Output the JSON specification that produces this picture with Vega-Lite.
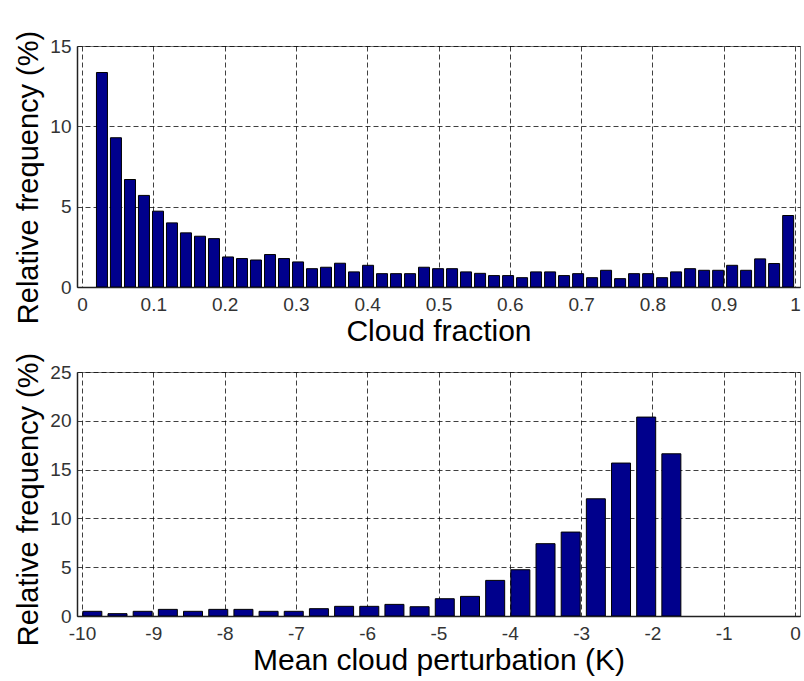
{
  "$schema": "https://vega.github.io/schema/vega-lite/v6.json",
  "background": "white",
  "padding": {"left": 14, "top": 29, "right": 2, "bottom": 0},
  "spacing": 4,
  "datasets": {
    "cf": [
      {"x": 0.0280, "f": 13.35}, {"x": 0.0476, "f": 9.29}, {"x": 0.0673, "f": 6.69}, {"x": 0.0869, "f": 5.70},
      {"x": 0.1066, "f": 4.72}, {"x": 0.1262, "f": 3.99}, {"x": 0.1458, "f": 3.37}, {"x": 0.1655, "f": 3.16},
      {"x": 0.1851, "f": 3.01}, {"x": 0.2048, "f": 1.87}, {"x": 0.2244, "f": 1.77}, {"x": 0.2440, "f": 1.68},
      {"x": 0.2637, "f": 2.02}, {"x": 0.2833, "f": 1.77}, {"x": 0.3030, "f": 1.56}, {"x": 0.3226, "f": 1.14},
      {"x": 0.3422, "f": 1.23}, {"x": 0.3619, "f": 1.48}, {"x": 0.3815, "f": 0.94}, {"x": 0.4012, "f": 1.35},
      {"x": 0.4208, "f": 0.83}, {"x": 0.4404, "f": 0.83}, {"x": 0.4601, "f": 0.83}, {"x": 0.4797, "f": 1.23},
      {"x": 0.4994, "f": 1.14}, {"x": 0.5190, "f": 1.14}, {"x": 0.5386, "f": 0.94}, {"x": 0.5583, "f": 0.85},
      {"x": 0.5779, "f": 0.71}, {"x": 0.5976, "f": 0.71}, {"x": 0.6172, "f": 0.58}, {"x": 0.6368, "f": 0.94},
      {"x": 0.6565, "f": 0.94}, {"x": 0.6761, "f": 0.71}, {"x": 0.6958, "f": 0.83}, {"x": 0.7154, "f": 0.58},
      {"x": 0.7350, "f": 1.04}, {"x": 0.7547, "f": 0.52}, {"x": 0.7743, "f": 0.83}, {"x": 0.7940, "f": 0.83},
      {"x": 0.8136, "f": 0.58}, {"x": 0.8332, "f": 0.94}, {"x": 0.8529, "f": 1.14}, {"x": 0.8725, "f": 1.04},
      {"x": 0.8922, "f": 1.04}, {"x": 0.9118, "f": 1.35}, {"x": 0.9314, "f": 1.04}, {"x": 0.9511, "f": 1.75},
      {"x": 0.9707, "f": 1.46}, {"x": 0.9904, "f": 4.45}
    ],
    "cp": [
      {"x": -9.855, "f": 0.48}, {"x": -9.502, "f": 0.24}, {"x": -9.149, "f": 0.48}, {"x": -8.796, "f": 0.68},
      {"x": -8.443, "f": 0.48}, {"x": -8.089, "f": 0.68}, {"x": -7.736, "f": 0.68}, {"x": -7.383, "f": 0.48},
      {"x": -7.030, "f": 0.48}, {"x": -6.677, "f": 0.75}, {"x": -6.324, "f": 0.99}, {"x": -5.971, "f": 0.99},
      {"x": -5.618, "f": 1.19}, {"x": -5.265, "f": 0.95}, {"x": -4.912, "f": 1.77}, {"x": -4.558, "f": 2.01},
      {"x": -4.205, "f": 3.65}, {"x": -3.852, "f": 4.74}, {"x": -3.499, "f": 7.41}, {"x": -3.146, "f": 8.60},
      {"x": -2.793, "f": 12.01}, {"x": -2.440, "f": 15.67}, {"x": -2.087, "f": 20.38}, {"x": -1.734, "f": 16.62}
    ]
  },
  "vconcat": [
    {
      "width": 723,
      "height": 241,
      "data": {"name": "cf"},
      "mark": {"type": "bar", "size": 11, "fill": "#00008c", "stroke": "#000", "strokeWidth": 1, "clip": true},
      "encoding": {
        "x": {
          "field": "x", "type": "quantitative",
          "scale": {"domain": [0, 1], "nice": false, "zero": false},
          "axis": {"title": "Cloud fraction", "titleFontSize": 30, "values": [0, 0.1, 0.2, 0.3, 0.4, 0.5, 0.6, 0.7, 0.8, 0.9, 1], "format": "~g", "labelPadding": 8, "titlePadding": 2}
        },
        "y": {
          "field": "f", "type": "quantitative",
          "scale": {"domain": [0, 15], "nice": false},
          "axis": {"title": "Relative frequency (%)", "values": [0, 5, 10, 15], "labelPadding": 6, "titlePadding": 6, "titleY": 131}
        }
      }
    },
    {
      "width": 723,
      "height": 244,
      "data": {"name": "cp"},
      "mark": {"type": "bar", "size": 19, "fill": "#00008c", "stroke": "#000", "strokeWidth": 1, "clip": true},
      "encoding": {
        "x": {
          "field": "x", "type": "quantitative",
          "scale": {"domain": [-10, 0], "nice": false, "zero": false},
          "axis": {"title": "Mean cloud perturbation (K)", "titleFontSize": 30, "values": [-10, -9, -8, -7, -6, -5, -4, -3, -2, -1, 0], "labelExpr": "'' + datum.value", "labelPadding": 8, "titlePadding": 2}
        },
        "y": {
          "field": "f", "type": "quantitative",
          "scale": {"domain": [0, 25], "nice": false},
          "axis": {"title": "Relative frequency (%)", "values": [0, 5, 10, 15, 20, 25], "labelPadding": 6, "titlePadding": 6, "titleY": 127}
        }
      }
    }
  ],
  "config": {
    "view": {"stroke": "#777", "strokeWidth": 1},
    "axis": {
      "grid": true, "gridColor": "#000", "gridDash": [5, 3], "gridOpacity": 0.75, "gridWidth": 1,
      "domainColor": "#222", "domainWidth": 1.5, "ticks": false,
      "labelFont": "Liberation Sans", "labelFontSize": 19, "labelColor": "#333",
      "titleFont": "Liberation Sans", "titleFontSize": 29, "titleFontWeight": "normal", "titleColor": "#000"
    }
  }
}
